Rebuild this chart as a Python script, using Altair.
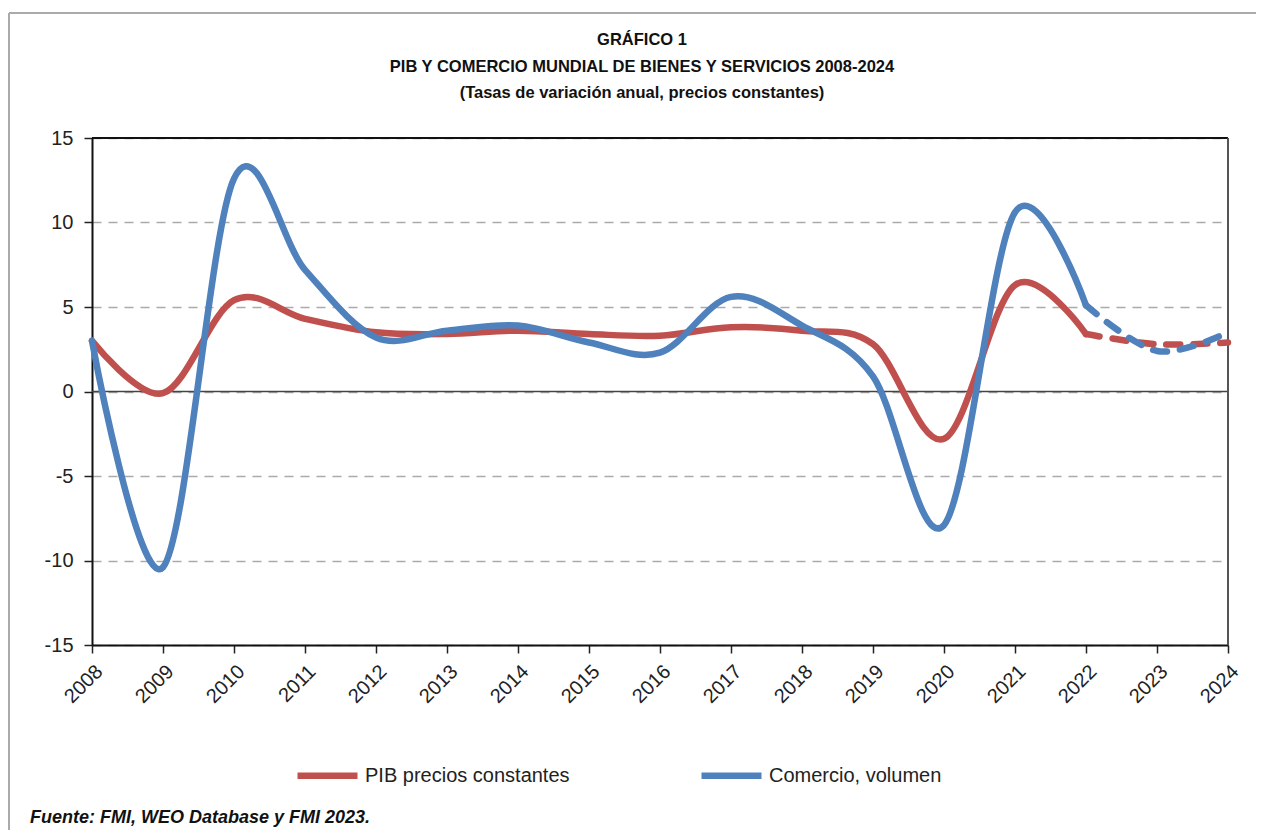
import altair as alt
import pandas as pd

years = list(range(2008, 2025))
pib = [3.0, -0.1, 5.4, 4.3, 3.5, 3.4, 3.6, 3.4, 3.3, 3.8, 3.6, 2.8, -2.8, 6.3, 3.4, 2.8, 2.9]
comercio = [3.0, -10.4, 12.6, 7.2, 3.2, 3.6, 3.9, 2.9, 2.3, 5.6, 3.9, 0.9, -7.9, 10.6, 5.1, 2.4, 3.5]
series_names = ["PIB precios constantes", "Comercio, volumen"]
colors = ["#C0504D", "#4F81BD"]
last_actual = 2022
y_ticks = [-15, -10, -5, 0, 5, 10, 15]
title_lines = [
    "GRÁFICO 1",
    "PIB Y COMERCIO MUNDIAL DE BIENES Y SERVICIOS 2008-2024",
    "(Tasas de variación anual, precios constantes)",
]
footer = "Fuente: FMI, WEO Database y FMI 2023."

rows = []
for name, vals in zip(series_names, [pib, comercio]):
    for yr, v in zip(years, vals):
        if yr <= last_actual:
            rows.append({"year": yr, "value": v, "serie": name, "seg": "real"})
        if yr >= last_actual:
            rows.append({"year": yr, "value": v, "serie": name, "seg": "proy"})
df = pd.DataFrame(rows)

FONT = "Liberation Sans"

x_scale = alt.Scale(domain=[2008, 2024], nice=False, zero=False)
y_scale = alt.Scale(domain=[-15, 15], nice=False)

x_enc = alt.X("year:Q", scale=x_scale,
              axis=alt.Axis(values=years, format="d", title=None, labelAngle=-45,
                            labelFontSize=20, labelColor="#222", labelPadding=8,
                            tickSize=8, tickColor="#222", tickWidth=1.5,
                            domainColor="#111", domainWidth=2, grid=False,
                            labelFont=FONT, labelAlign="right", labelBaseline="top"))
y_enc = alt.Y("value:Q", scale=y_scale,
              axis=alt.Axis(values=y_ticks, title=None, labelFontSize=20, labelColor="#222",
                            labelExpr="'' + datum.value",
                            labelPadding=11, tickSize=8, tickColor="#222", tickWidth=1.5,
                            domainColor="#111", domainWidth=2, grid=True,
                            gridColor="#aaaaaa", gridDash=[9, 7], gridWidth=1.5,
                            labelFont=FONT))
color_enc = alt.Color("serie:N",
                      scale=alt.Scale(domain=series_names, range=colors),
                      sort=series_names,
                      legend=alt.Legend(title=None, orient="none", direction="horizontal",
                                        legendX=202, legendY=604,
                                        symbolType="stroke", symbolSize=3600,
                                        symbolStrokeWidth=6.5, labelFontSize=20,
                                        labelColor="#222", labelFont=FONT, labelLimit=0,
                                        labelOffset=4, columnPadding=118))

base = alt.Chart(df)
solid = base.transform_filter(alt.datum.seg == "real").mark_line(
    interpolate="cardinal", tension=0, strokeWidth=6.5, strokeCap="round", strokeJoin="round"
).encode(x=x_enc, y=y_enc, color=color_enc, detail="serie:N")
dashed = base.transform_filter(alt.datum.seg == "proy").mark_line(
    interpolate="cardinal", tension=0, strokeWidth=6.5, strokeCap="round",
    strokeDash=[14, 13]
).encode(x=x_enc, y=y_enc, color=color_enc, detail="serie:N")

zero = alt.Chart(pd.DataFrame({"z": [0]})).mark_rule(color="#444", strokeWidth=1.5).encode(
    y=alt.Y("z:Q", scale=y_scale))
top_rule = alt.Chart(pd.DataFrame({"z": [15]})).mark_rule(color="#111", strokeWidth=2).encode(
    y=alt.Y("z:Q", scale=y_scale))
right_rule = alt.Chart(pd.DataFrame({"yr": [2024]})).mark_rule(color="#555", strokeWidth=2).encode(
    x=alt.X("yr:Q", scale=x_scale))

one = pd.DataFrame({"t": [footer]})
foot = alt.Chart(one).mark_text(align="left", baseline="middle", fontSize=18,
                                fontWeight="bold", fontStyle="italic", font=FONT,
                                color="#111").encode(
    text="t:N", x=alt.value(-62), y=alt.value(680))
border_v = alt.Chart(one).mark_rule(color="#aaaaaa", strokeWidth=2).encode(
    x=alt.value(-83), y=alt.value(-125), y2=alt.value(720))
border_h = alt.Chart(one).mark_rule(color="#aaaaaa", strokeWidth=2).encode(
    y=alt.value(-125), x=alt.value(-83), x2=alt.value(1180))

title_marks = []
for line, ypos in zip(title_lines, [-98, -71, -45]):
    title_marks.append(
        alt.Chart(pd.DataFrame({"t": [line]})).mark_text(
            align="center", baseline="middle", fontSize=16.5, fontWeight="bold",
            font=FONT, color="#111").encode(text="t:N", x=alt.value(550), y=alt.value(ypos))
    )

chart = alt.layer(border_v, border_h, zero, top_rule, right_rule, solid, dashed, foot,
                  *title_marks).properties(
    width=1136, height=507,
    padding={"left": 84, "top": 130, "right": 28, "bottom": 185},
    autosize=alt.AutoSizeParams(type="none"),
).configure_view(stroke=None).configure(background="white")

chart.save("out.html", embed_options={"renderer": "svg", "actions": False})
